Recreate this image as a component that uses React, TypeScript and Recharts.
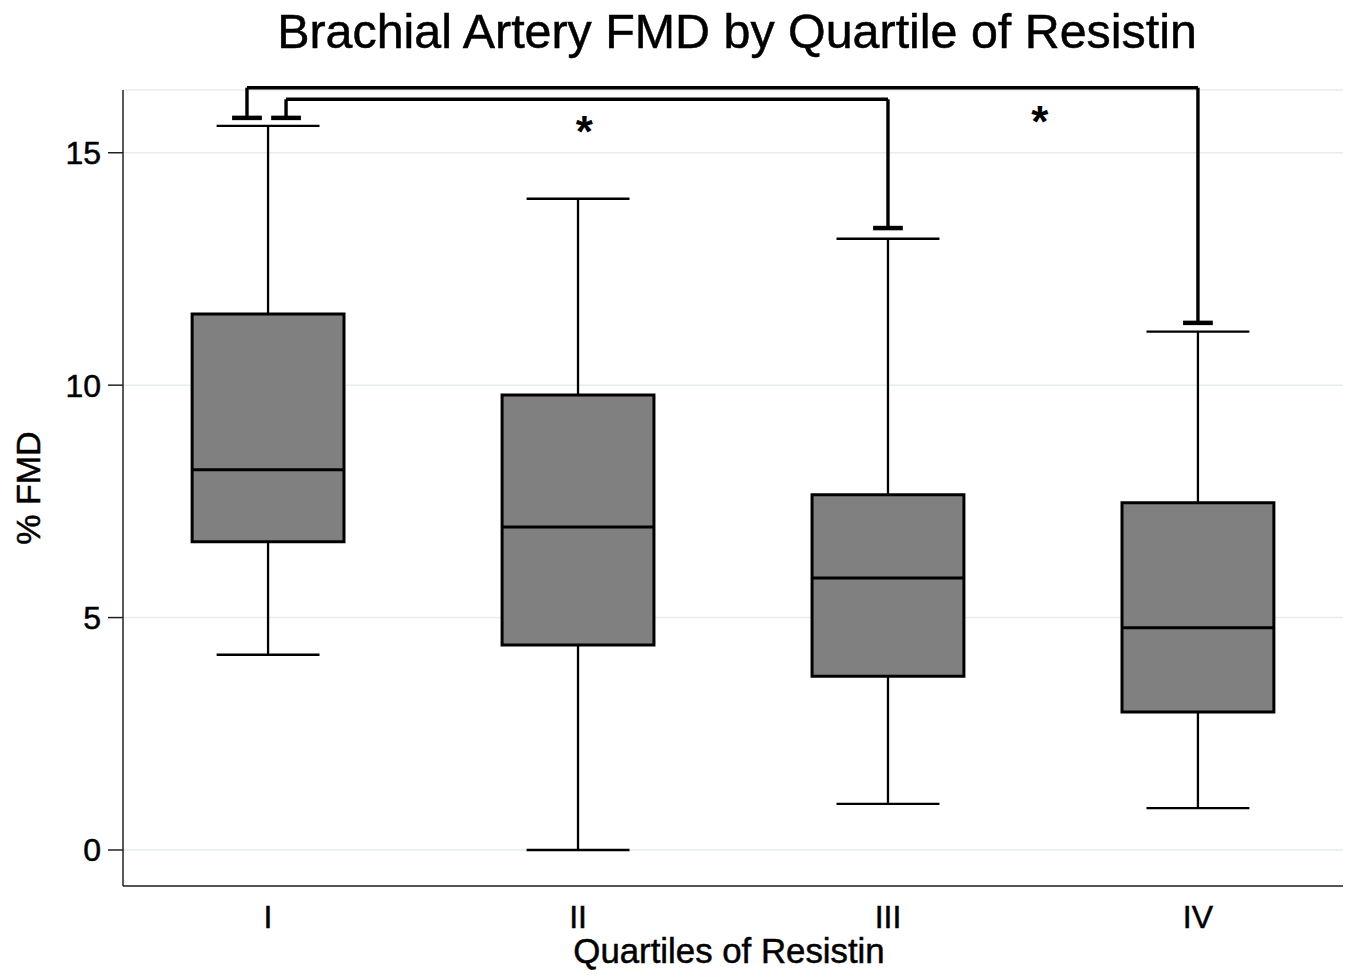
import React from "react";
import {
  ComposedChart,
  XAxis,
  YAxis,
  CartesianGrid,
  ReferenceArea,
  ReferenceLine,
  ReferenceDot,
  Scatter,
  Label,
} from "recharts";

// ---- data ----
const categories = ["I", "II", "III", "IV"];
const positions = [1, 2, 3, 4];
const whiskerLow = [4.2, 0.0, 0.99, 0.9];
const q1 = [6.63, 4.41, 3.74, 2.97];
const median = [8.18, 6.95, 5.85, 4.78];
const q3 = [11.53, 9.79, 7.64, 7.47];
const whiskerHigh = [15.58, 14.01, 13.15, 11.15];
const yTicks = [0, 5, 10, 15];

// significance brackets: I vs III, I vs IV
const bracketLevel = [16.15, 16.4];
const bracketLeftX = [1.058, 0.932];
const bracketRightX = [3.0, 4.0];
const bracketLeftEnd = [15.75, 15.75];
const bracketRightEnd = [13.38, 11.34];
const starX = [2.02, 3.49];
const starY = [15.67, 15.88];

const FONT = "'Liberation Sans', Arial, Helvetica, sans-serif";
const BOX_HALF = 0.245;
const CAP_HALF = 0.166;
const BRACKET_CAP_HALF = 0.048;

const boxData = positions.map((p, i) => ({
  x: p,
  median: median[i],
  label: categories[i],
}));

const seg = (x1: number, y1: number, x2: number, y2: number) => [
  { x: x1, y: y1 },
  { x: x2, y: y2 },
];

export default function App() {
  const elems: React.ReactNode[] = [];
  positions.forEach((p, i) => {
    elems.push(
      <ReferenceLine
        key={`wu${i}`}
        segment={seg(p, q3[i], p, whiskerHigh[i])}
        stroke="#000"
        strokeWidth={2.3}
        ifOverflow="visible"
      />,
      <ReferenceLine
        key={`wl${i}`}
        segment={seg(p, whiskerLow[i], p, q1[i])}
        stroke="#000"
        strokeWidth={2.3}
        ifOverflow="visible"
      />,
      <ReferenceLine
        key={`cu${i}`}
        segment={seg(p - CAP_HALF, whiskerHigh[i], p + CAP_HALF, whiskerHigh[i])}
        stroke="#000"
        strokeWidth={2.3}
        ifOverflow="visible"
      />,
      <ReferenceLine
        key={`cl${i}`}
        segment={seg(p - CAP_HALF, whiskerLow[i], p + CAP_HALF, whiskerLow[i])}
        stroke="#000"
        strokeWidth={2.3}
        ifOverflow="visible"
      />,
      <ReferenceArea
        key={`b${i}`}
        x1={p - BOX_HALF}
        x2={p + BOX_HALF}
        y1={q1[i]}
        y2={q3[i]}
        fill="#808080"
        fillOpacity={1}
        stroke="#000"
        strokeWidth={3}
        ifOverflow="visible"
      />,
      <ReferenceLine
        key={`m${i}`}
        segment={seg(p - BOX_HALF, median[i], p + BOX_HALF, median[i])}
        stroke="#000"
        strokeWidth={3}
        ifOverflow="visible"
      />
    );
  });

  bracketLevel.forEach((lv, i) => {
    elems.push(
      <ReferenceLine
        key={`bh${i}`}
        segment={seg(bracketLeftX[i], lv, bracketRightX[i], lv)}
        stroke="#000"
        strokeWidth={3.4}
        ifOverflow="visible"
      />,
      <ReferenceLine
        key={`bl${i}`}
        segment={seg(bracketLeftX[i], lv, bracketLeftX[i], bracketLeftEnd[i])}
        stroke="#000"
        strokeWidth={3.4}
        ifOverflow="visible"
      />,
      <ReferenceLine
        key={`br${i}`}
        segment={seg(bracketRightX[i], lv, bracketRightX[i], bracketRightEnd[i])}
        stroke="#000"
        strokeWidth={3.4}
        ifOverflow="visible"
      />,
      <ReferenceLine
        key={`blc${i}`}
        segment={seg(
          bracketLeftX[i] - BRACKET_CAP_HALF,
          bracketLeftEnd[i],
          bracketLeftX[i] + BRACKET_CAP_HALF,
          bracketLeftEnd[i]
        )}
        stroke="#000"
        strokeWidth={4.5}
        ifOverflow="visible"
      />,
      <ReferenceLine
        key={`brc${i}`}
        segment={seg(
          bracketRightX[i] - BRACKET_CAP_HALF,
          bracketRightEnd[i],
          bracketRightX[i] + BRACKET_CAP_HALF,
          bracketRightEnd[i]
        )}
        stroke="#000"
        strokeWidth={4.5}
        ifOverflow="visible"
      />,
      <ReferenceDot
        key={`s${i}`}
        x={starX[i]}
        y={starY[i]}
        ifOverflow="visible"
        shape={(props: any) => (
          <text
            x={props.cx}
            y={props.cy + 25}
            textAnchor="middle"
            fontSize={44}
            fontWeight="bold"
            fontFamily={FONT}
            fill="#000"
          >
            *
          </text>
        )}
      />
    );
  });

  const heavy = { stroke: "#000", strokeWidth: 0.5 };

  return (
    <div style={{ position: "absolute", left: 0, top: 0, width: 1352, height: 977, background: "#fff" }}>
      <div
        style={{
          position: "absolute",
          left: 0,
          top: 7,
          width: 1474,
          textAlign: "center",
          fontFamily: FONT,
          fontSize: 48.4,
          lineHeight: "48px",
          color: "#000",
          whiteSpace: "nowrap",
          WebkitTextStroke: "0.5px #000",
        }}
      >
        Brachial Artery FMD by Quartile of Resistin
      </div>
      <ComposedChart
        width={1352}
        height={977}
        data={boxData}
        margin={{ top: 90, right: 9, bottom: 0, left: 0 }}
      >
        <CartesianGrid horizontal vertical={false} stroke="#e3edf1" strokeWidth={1.5} />
        <XAxis
          dataKey="x"
          type="number"
          domain={[0.532, 4.468]}
          ticks={positions}
          allowDataOverflow
          tickFormatter={(v: number) => categories[positions.indexOf(v)] ?? ""}
          height={91}
          axisLine={{ stroke: "#222", strokeWidth: 1.5 }}
          tickLine={false}
          tickSize={0}
          tickMargin={19}
          tick={{ fontSize: 32, fill: "#000", fontFamily: FONT, ...heavy }}
        >
          <Label
            content={(props: any) => {
              const vb = props.viewBox || {};
              return (
                <text
                  x={vb.x + vb.width / 2 - 4}
                  y={vb.y + 77}
                  textAnchor="middle"
                  fontSize={34.8}
                  fontFamily={FONT}
                  fill="#000"
                  {...heavy}
                >
                  Quartiles of Resistin
                </text>
              );
            }}
          />
        </XAxis>
        <YAxis
          type="number"
          domain={[-0.775, 16.35]}
          ticks={yTicks}
          allowDataOverflow
          width={123}
          axisLine={{ stroke: "#222", strokeWidth: 1.5 }}
          tickLine={{ stroke: "#222", strokeWidth: 1.5 }}
          tickSize={15}
          tickMargin={7}
          tick={{ fontSize: 32, fill: "#000", fontFamily: FONT, ...heavy }}
        >
          <Label
            content={(props: any) => {
              const vb = props.viewBox || {};
              const cx = 28;
              const cy = vb.y + vb.height / 2;
              return (
                <text
                  x={cx}
                  y={cy}
                  transform={`rotate(-90, ${cx}, ${cy})`}
                  textAnchor="middle"
                  dominantBaseline="central"
                  fontSize={34}
                  fontFamily={FONT}
                  fill="#000"
                  {...heavy}
                >
                  % FMD
                </text>
              );
            }}
          />
        </YAxis>
        <Scatter dataKey="median" isAnimationActive={false} shape={() => <g />} />
        {elems}
      </ComposedChart>
    </div>
  );
}
